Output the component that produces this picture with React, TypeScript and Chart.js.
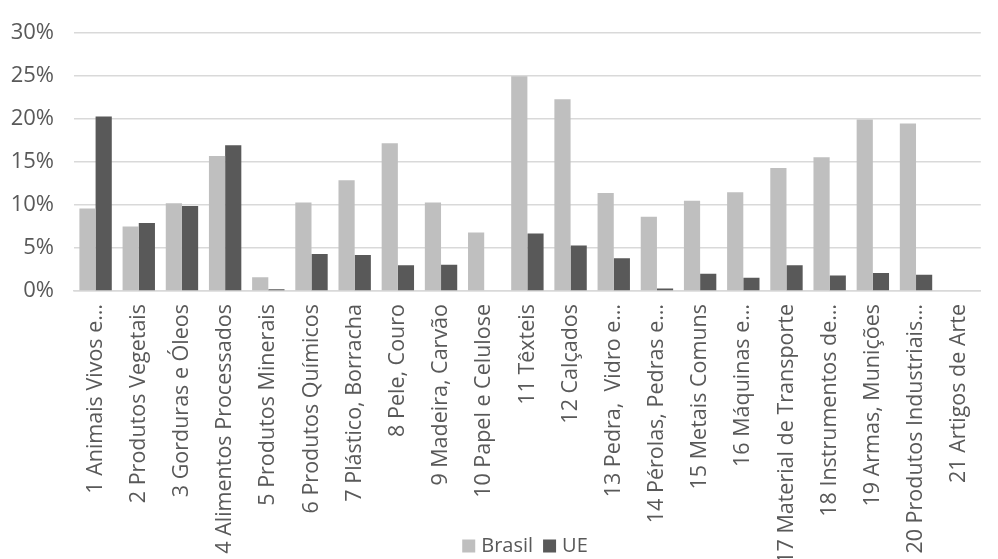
import React, { useEffect, useRef } from "react";
import { Chart, registerables } from "chart.js";

Chart.register(...registerables);

const categories = [
  "1 Animais Vivos e…",
  "2 Produtos Vegetais",
  "3 Gorduras e Óleos",
  "4 Alimentos Processados",
  "5 Produtos Minerais",
  "6 Produtos Químicos",
  "7 Plástico, Borracha",
  "8 Pele, Couro",
  "9 Madeira, Carvão",
  "10 Papel e Celulose",
  "11 Têxteis",
  "12 Calçados",
  "13 Pedra,  Vidro e…",
  "14 Pérolas, Pedras e…",
  "15 Metais Comuns",
  "16 Máquinas e…",
  "17 Material de Transporte",
  "18 Instrumentos de…",
  "19 Armas, Munições",
  "20 Produtos Industriais…",
  "21 Artigos de Arte",
];

const brasil = [9.6, 7.5, 10.2, 15.7, 1.6, 10.3, 12.9, 17.2, 10.3, 6.8, 25.0, 22.3, 11.4, 8.65, 10.5, 11.5, 14.3, 15.55, 19.95, 19.5, 0];
const ue = [20.3, 7.9, 9.9, 16.95, 0.2, 4.3, 4.2, 3.0, 3.05, 0, 6.7, 5.3, 3.8, 0.3, 2.0, 1.55, 3.0, 1.8, 2.1, 1.9, 0];

const yTicks = [0, 5, 10, 15, 20, 25, 30];

const FONT = "'Open Sans', sans-serif";
const TEXT_COLOR = "#595959";

const bottomLegend = {
  id: "bottomLegend",
  afterDraw(chart: any) {
    const ctx = chart.ctx as CanvasRenderingContext2D;
    const items = chart.data.datasets.map((ds: any) => ({ label: ds.label as string, color: ds.backgroundColor as string }));
    ctx.save();
    ctx.font = `20px ${FONT}`;
    ctx.textBaseline = "middle";
    ctx.textAlign = "left";
    const box = 13;
    const gap = 6;
    const itemGap = 10;
    const widths = items.map((it: any) => box + gap + ctx.measureText(it.label).width);
    const total = widths.reduce((a: number, b: number) => a + b, 0) + itemGap * (items.length - 1);
    const centerX = 525;
    const centerY = 546;
    let x = centerX - total / 2;
    items.forEach((it: any, i: number) => {
      ctx.fillStyle = it.color;
      ctx.fillRect(x, centerY - box / 2, box, box);
      ctx.fillStyle = TEXT_COLOR;
      ctx.fillText(it.label, x + box + gap, centerY);
      x += widths[i] + itemGap;
    });
    ctx.restore();
  },
};

export default function App() {
  const ref = useRef<HTMLCanvasElement | null>(null);

  useEffect(() => {
    document.body.style.margin = "0";
    const canvas = ref.current;
    if (!canvas) return;
    const chart = new Chart(canvas, {
      type: "bar",
      data: {
        labels: categories,
        datasets: [
          { label: "Brasil", data: brasil, backgroundColor: "#bfbfbf", categoryPercentage: 0.75, barPercentage: 1 },
          { label: "UE", data: ue, backgroundColor: "#595959", categoryPercentage: 0.75, barPercentage: 1 },
        ],
      },
      plugins: [bottomLegend],
      options: {
        animation: false,
        responsive: false,
        maintainAspectRatio: false,
        layout: { padding: { top: 8, right: 0, left: 8, bottom: 0 } },
        plugins: {
          legend: { display: false },
          tooltip: { enabled: false },
        },
        scales: {
          x: {
            grid: { display: false, drawTicks: false },
            border: { color: "#d9d9d9", width: 1.5 },
            ticks: {
              font: { family: FONT, size: 21.5 },
              color: TEXT_COLOR,
              minRotation: 90,
              maxRotation: 90,
              autoSkip: false,
              padding: 13,
            },
            afterFit: (scale: any) => {
              scale.height = 268;
            },
          },
          y: {
            min: 0,
            max: 30,
            afterBuildTicks: (scale: any) => {
              scale.ticks = yTicks.map((v) => ({ value: v }));
            },
            afterFit: (scale: any) => {
              scale.width = 66;
            },
            grid: { color: "#d9d9d9", lineWidth: 1.5, drawTicks: false },
            border: { display: false },
            ticks: {
              font: { family: FONT, size: 22 },
              color: TEXT_COLOR,
              padding: 20,
              callback: (v: any) => `${v}%`,
            },
          },
        },
      },
    });
    return () => chart.destroy();
  }, []);

  return (
    <div style={{ width: 998, height: 559 }}>
      <canvas ref={ref} width={998} height={559} style={{ display: "block", width: 998, height: 559 }} />
    </div>
  );
}
